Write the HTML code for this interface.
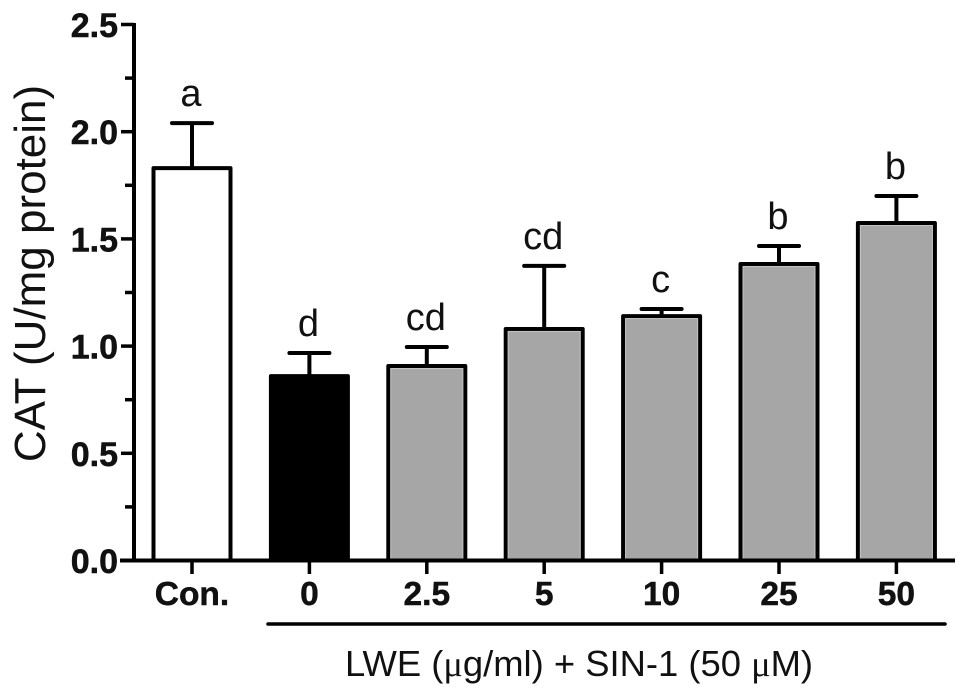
<!DOCTYPE html>
<html lang="en">
<head>
<meta charset="utf-8">
<title>CAT activity bar chart</title>
<style>
  html, body { margin: 0; padding: 0; background: #fff; }
  svg { display: block; font-family: "Liberation Sans", Arial, sans-serif; }
</style>
</head>
<body>
<svg id="chart" xmlns="http://www.w3.org/2000/svg" width="969" height="698" viewBox="0 0 969 698">
  <rect x="0" y="0" width="969" height="698" fill="#fff"/>
  <g id="bars"></g>
  <g id="axes"></g>
  <text transform="translate(45 273.5) rotate(-90)" text-anchor="middle" font-size="44" fill="#111">CAT (U/mg protein)</text>
  <line x1="268" y1="624" x2="945" y2="624" stroke="#000" stroke-width="3.5" stroke-linecap="round"/>
  <text x="579" y="676" text-anchor="middle" font-size="36.4" fill="#111">LWE (<tspan font-family="'Liberation Serif', serif">μ</tspan>g/ml) + SIN-1 (50 <tspan font-family="'Liberation Serif', serif">μ</tspan>M)</text>
</svg>
<script>
const categories = ['Con.', '0', '2.5', '5', '10', '25', '50'];
const means = [1.83, 0.86, 0.907, 1.08, 1.14, 1.383, 1.574];
const errorTops = [2.04, 0.968, 0.996, 1.374, 1.173, 1.467, 1.70];
const sigLetters = ['a', 'd', 'cd', 'cd', 'c', 'b', 'b'];
const barKinds = ['control', 'vehicle', 'treated', 'treated', 'treated', 'treated', 'treated'];
const yTicks = ['0.0', '0.5', '1.0', '1.5', '2.0', '2.5'];
const yMinorTicks = [0.25, 0.75, 1.25, 1.75, 2.25];

const NS = 'http://www.w3.org/2000/svg';
const yScale = v => 560.5 - v * 214.4;
const xScale = i => 192 + i * 117.4;
const fills = { control: '#ffffff', vehicle: '#000000', treated: '#a6a6a6' };

function make(tag, attrs, parent) {
  const el = document.createElementNS(NS, tag);
  for (const k in attrs) el.setAttribute(k, attrs[k]);
  parent.appendChild(el);
  return el;
}

const barsGroup = document.getElementById('bars');
const axesGroup = document.getElementById('axes');

categories.forEach((cat, i) => {
  const cx = xScale(i);
  const top = yScale(means[i]);
  const capY = yScale(errorTops[i]);

  const stem = make('line', { x1: cx, x2: cx, y1: capY, y2: top, stroke: '#000', 'stroke-width': 4 }, barsGroup);
  
  

  const cap = make('line', { x1: cx - 20, x2: cx + 20, y1: capY, y2: capY, stroke: '#000', 'stroke-width': 4, 'stroke-linecap': 'round' }, barsGroup);
  
  

  const bar = make('rect', { x: cx - 38.5, y: top, width: 77, height: yScale(0) - top, fill: fills[barKinds[i]], stroke: '#000', 'stroke-width': 4, 'stroke-linejoin': 'round' }, barsGroup);
  
  

  if (barKinds[i] === 'treated') {
    const edge = make('rect', { x: cx - 36, y: top + 2.5, width: 72, height: yScale(0) - top - 4, fill: 'none', stroke: '#c4c4c4', 'stroke-width': 1 }, barsGroup);
    
    
  }

  const letter = make('text', { x: cx - 1, y: capY - 17, 'text-anchor': 'middle', 'font-size': 38, fill: '#111' }, barsGroup);
  
  
  letter.textContent = sigLetters[i];

  const tick = make('line', { x1: cx, x2: cx, y1: yScale(0), y2: 574, stroke: '#000', 'stroke-width': 3.5 }, axesGroup);
  
  

  const label = make('text', { x: cx, y: 605, 'text-anchor': 'middle', 'font-size': 33.5, 'font-weight': 'bold', fill: '#111', stroke: '#111', 'stroke-width': 0.5 }, axesGroup);
  
  
  label.textContent = cat;
});

const yAxis = make('line', { x1: 134, x2: 134, y1: yScale(2.5) - 1.5, y2: yScale(0) + 1.5, stroke: '#000', 'stroke-width': 4 }, axesGroup);



const xAxis = make('line', { x1: 120, x2: 955, y1: yScale(0), y2: yScale(0), stroke: '#000', 'stroke-width': 4 }, axesGroup);



yTicks.forEach(t => {
  const y = yScale(parseFloat(t));
  const tick = make('line', { x1: 121, x2: 134, y1: y, y2: y, stroke: '#000', 'stroke-width': 3.5 }, axesGroup);
  
  

  const label = make('text', { x: 118, y: y + 12.5, 'text-anchor': 'end', 'font-size': 34, 'font-weight': 'bold', fill: '#111', stroke: '#111', 'stroke-width': 0.5 }, axesGroup);
  
  
  label.textContent = t;
});

yMinorTicks.forEach(t => {
  const y = yScale(t);
  const tick = make('line', { x1: 125, x2: 134, y1: y, y2: y, stroke: '#000', 'stroke-width': 3.5 }, axesGroup);
  
  
});
</script>
</body>
</html>
